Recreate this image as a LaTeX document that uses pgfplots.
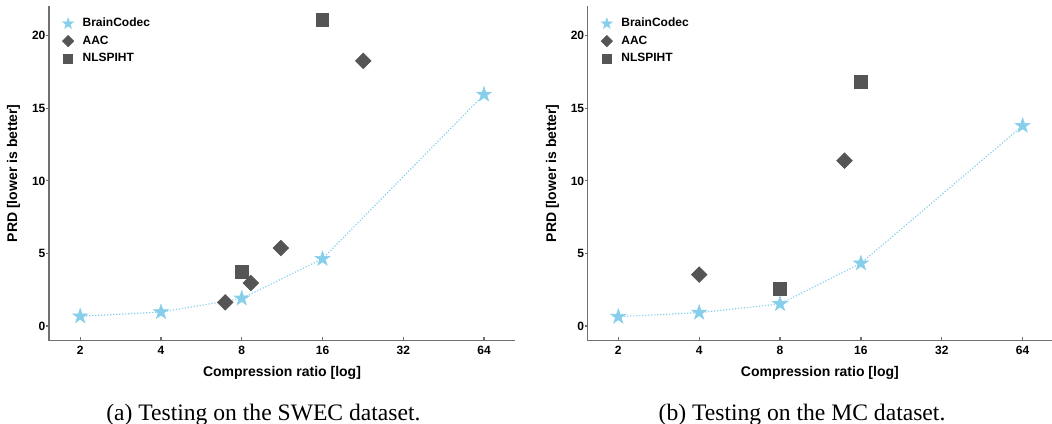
\documentclass[border=0pt]{standalone}
\usepackage{fontspec}
\setmainfont{Liberation Sans}
\newfontfamily\capfont{Liberation Serif}
\usepackage{pgfplots}
\pgfplotsset{compat=1.18}
\definecolor{sky}{HTML}{87CEEB}
\definecolor{dgray}{HTML}{555555}
\definecolor{axgray}{HTML}{707070}
\pgfdeclareplotmark{fstar}{%
  \pgfpathmoveto{\pgfpointpolar{90}{\pgfplotmarksize}}%
  \pgfpathlineto{\pgfpointpolar{126}{0.382\pgfplotmarksize}}%
  \pgfpathlineto{\pgfpointpolar{162}{\pgfplotmarksize}}%
  \pgfpathlineto{\pgfpointpolar{198}{0.382\pgfplotmarksize}}%
  \pgfpathlineto{\pgfpointpolar{234}{\pgfplotmarksize}}%
  \pgfpathlineto{\pgfpointpolar{270}{0.382\pgfplotmarksize}}%
  \pgfpathlineto{\pgfpointpolar{306}{\pgfplotmarksize}}%
  \pgfpathlineto{\pgfpointpolar{342}{0.382\pgfplotmarksize}}%
  \pgfpathlineto{\pgfpointpolar{18}{\pgfplotmarksize}}%
  \pgfpathlineto{\pgfpointpolar{54}{0.382\pgfplotmarksize}}%
  \pgfpathclose\pgfusepathqfillstroke}
\pgfplotsset{
  legend image code/.code={\draw[mark repeat=1,#1] plot coordinates {(0.1cm,0cm)};},
  every axis/.append style={
    scale only axis, height=167.25pt,
    ymin=-1, ymax=22.05,
    axis x line*=bottom, axis y line*=left,
    axis line style={axgray, line width=0.7pt},
    tick style={axgray, line width=0.6pt},
    tick align=inside, major tick length=1.6pt,
    ytick style={xshift=-1.6pt},
    xtick={2,4,8,16,32,64}, xticklabels={2,4,8,16,32,64},
    ytick={0,5,10,15,20}, yticklabels={0,5,10,15,20},
    xticklabel style={font=\bfseries\fontsize{6}{7}\selectfont, inner sep=0pt, yshift=-2.6pt},
    yticklabel style={font=\bfseries\fontsize{6}{7}\selectfont, inner sep=0pt, xshift=-1.6pt},
    xlabel style={font=\bfseries\fontsize{7}{8}\selectfont, at={(axis description cs:0.5,-0.0972)}, anchor=center},
    ylabel style={font=\bfseries\fontsize{7}{8}\selectfont, at={(axis description cs:-0.076,0.5)}, anchor=center},
    clip=false,
    legend cell align=left,
    legend style={draw=none, fill=none, inner sep=0pt, outer sep=0pt,
      at={(axis description cs:0,1)}, anchor=north west, xshift=6.8pt, yshift=-5.5pt,
      font=\bfseries\fontsize{6}{7}\selectfont, row sep=2pt, column sep=4pt,
      nodes={inner sep=0.5pt, text height=4.5pt, text depth=1.2pt}},
  },
}
\begin{document}
\begin{tikzpicture}
\useasboundingbox (0pt,0pt) rectangle (526pt,-211.5pt);
% Left panel: SWEC
\begin{axis}[xmode=log, log basis x=2, at={(24.5pt,-170.25pt)}, anchor=south west, width=233pt, xmin=1.53, xmax=83.5,
  xlabel={Compression ratio [log]}, ylabel={PRD [lower is better]}]
\addlegendimage{only marks, mark=fstar, mark size=2.8pt, mark options={fill=sky, draw=sky, line width=0.3pt}}
\addlegendentry{BrainCodec}
\addlegendimage{only marks, mark=square*, mark size=1.95pt, mark options={rotate=45, fill=dgray, draw=dgray}}
\addlegendentry{AAC}
\addlegendimage{only marks, mark=square*, mark size=2.25pt, mark options={fill=dgray, draw=dgray}}
\addlegendentry{NLSPIHT}
\addplot[forget plot, color=sky, mark=fstar, mark size=3.9pt, line width=0.6pt, dash pattern=on 0.6pt off 0.9pt, mark options={solid, fill=sky, draw=sky, line width=0.3pt}] coordinates {(2,0.67) (4,0.96) (8,1.90) (16,4.63) (64,15.95)};
\addplot[forget plot, only marks, mark=square*, mark size=2.72pt, mark options={rotate=45, fill=dgray, draw=dgray}] coordinates {(6.94,1.63) (8.65,2.96) (11.19,5.37) (22.7,18.27)};
\addplot[forget plot, only marks, mark=square*, mark size=3.17pt, mark options={fill=dgray, draw=dgray}] coordinates {(8,3.72) (16,21.07)};
\end{axis}
% Right panel: MC
\begin{axis}[xmode=log, log basis x=2, at={(293.85pt,-170.25pt)}, anchor=south west, width=232.15pt, xmin=1.539, xmax=82.3,
  xlabel={Compression ratio [log]}, ylabel={PRD [lower is better]}]
\addlegendimage{only marks, mark=fstar, mark size=2.8pt, mark options={fill=sky, draw=sky, line width=0.3pt}}
\addlegendentry{BrainCodec}
\addlegendimage{only marks, mark=square*, mark size=1.95pt, mark options={rotate=45, fill=dgray, draw=dgray}}
\addlegendentry{AAC}
\addlegendimage{only marks, mark=square*, mark size=2.25pt, mark options={fill=dgray, draw=dgray}}
\addlegendentry{NLSPIHT}
\addplot[forget plot, color=sky, mark=fstar, mark size=3.9pt, line width=0.6pt, dash pattern=on 0.6pt off 0.9pt, mark options={solid, fill=sky, draw=sky, line width=0.3pt}] coordinates {(2,0.64) (4,0.92) (8,1.52) (16,4.32) (64,13.8)};
\addplot[forget plot, only marks, mark=square*, mark size=2.72pt, mark options={rotate=45, fill=dgray, draw=dgray}] coordinates {(4,3.54) (13.9,11.39)};
\addplot[forget plot, only marks, mark=square*, mark size=3.17pt, mark options={fill=dgray, draw=dgray}] coordinates {(8,2.57) (16,16.8)};
\end{axis}
\node[font=\capfont\fontsize{11.8}{13}\selectfont, anchor=base] at (131.7pt,-210pt) {(a) Testing on the SWEC dataset.};
\node[font=\capfont\fontsize{11.8}{13}\selectfont, anchor=base] at (401pt,-210pt) {(b) Testing on the MC dataset.};
\end{tikzpicture}
\end{document}
